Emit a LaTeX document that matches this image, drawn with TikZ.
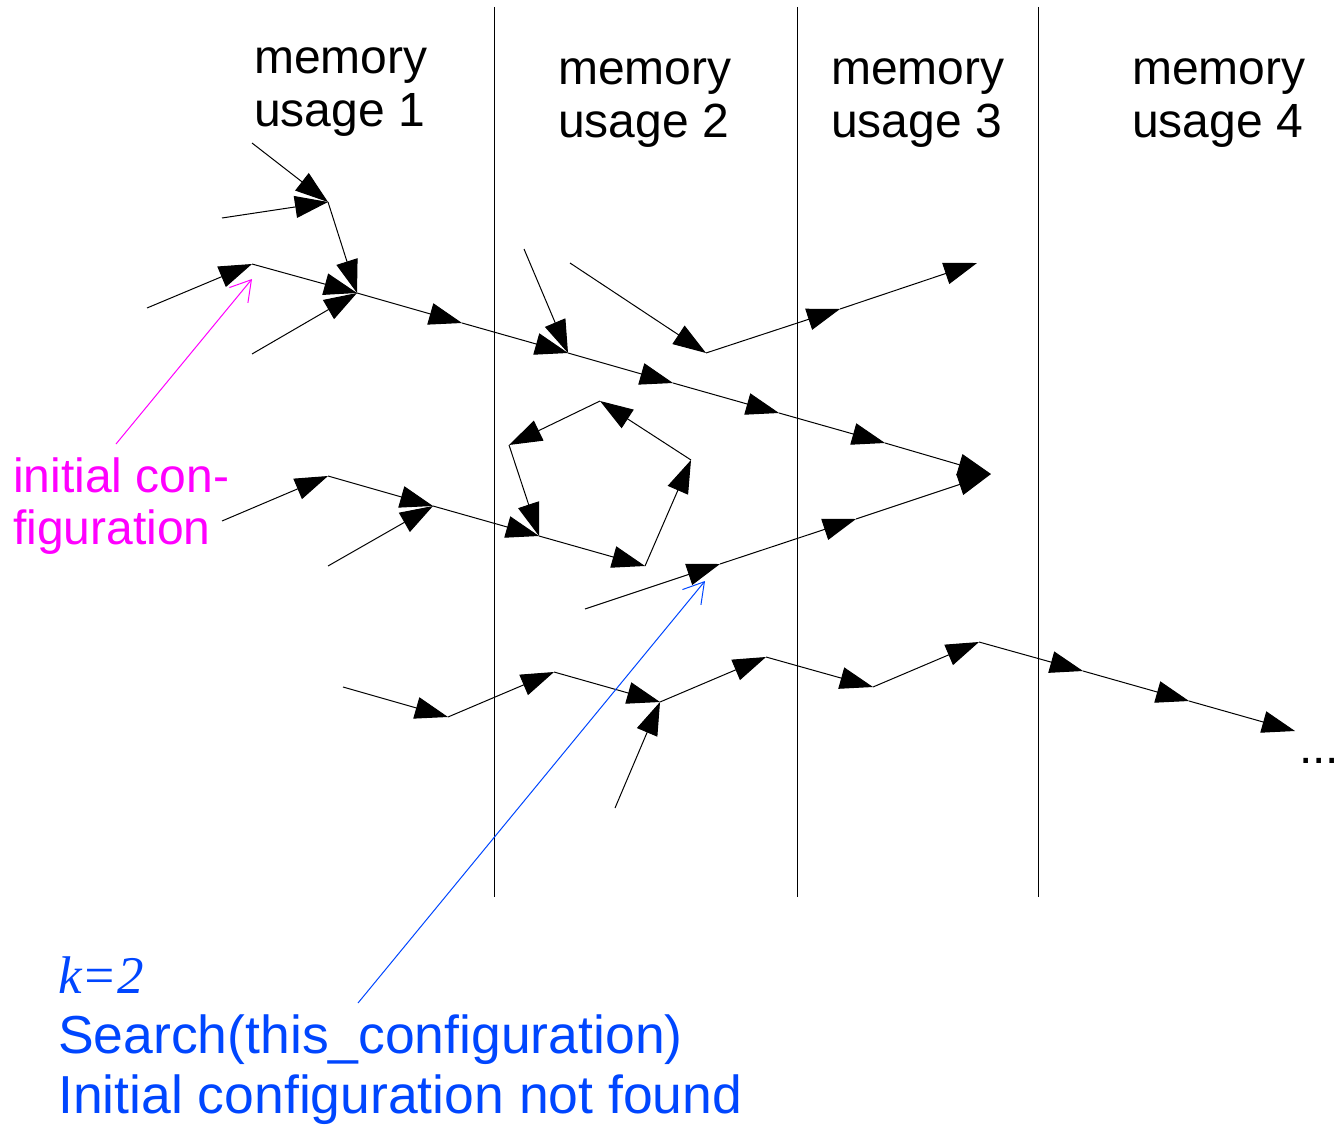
\documentclass[tikz,border=0pt]{standalone}
\usepackage{fontspec}
\setmainfont{Liberation Sans}
\newfontfamily\serifit{Liberation Serif}
\usetikzlibrary{arrows.meta}
\definecolor{notemagenta}{RGB}{255,0,255}
\definecolor{noteblue}{RGB}{0,70,255}
\tikzset{move/.style={line width=1pt, -{Triangle[length=33pt, width=22pt]}}}
\tikzset{pointer/.style={line width=1pt, -{Straight Barb[length=20pt, width=24pt]}}}
\tikzset{divider/.style={line width=0.8pt}}
\tikzset{usage/.style={anchor=base west, inner sep=0pt, align=left, font=\fontsize{48}{53}\selectfont}}

\begin{document}
\begin{tikzpicture}[x=1pt, y=-1pt]
  \useasboundingbox (0,0) rectangle (1335,1126);
  % column dividers
  \foreach \x [count=\i] in {494, 797, 1038} {
    \coordinate (top\i) at (\x, 7);
    \coordinate (bot\i) at (\x, 897);
    \draw[divider] (top\i) -- (bot\i);
  }
  % headings (anchored on the last line)
  \node[usage] (mem1) at (254, 127) {memory\\usage 1};
  \node[usage] (mem2) at (558, 138) {memory\\usage 2};
  \node[usage] (mem3) at (831, 138) {memory\\usage 3};
  \node[usage] (mem4) at (1132, 138) {memory\\usage 4};
  % upper cluster
  \coordinate (u0) at (252, 143);
  \coordinate (u1) at (222, 218);
  \coordinate (u2) at (328, 202);
  \coordinate (u3) at (147, 308);
  \coordinate (u4) at (252, 264);
  \coordinate (u5) at (252, 354);
  \coordinate (u6) at (357, 293);
  \coordinate (u7) at (462, 323);
  \coordinate (u8) at (568, 353);
  \coordinate (u9) at (524, 249);
  \coordinate (u10) at (673, 383);
  \coordinate (u11) at (779, 413);
  \coordinate (u12) at (885, 443);
  \coordinate (u13) at (991, 474);
  \foreach \a/\b in {u0/u2, u1/u2, u2/u6, u3/u4, u4/u6, u5/u6, u6/u7,
                     u7/u8, u9/u8, u8/u10, u10/u11, u11/u12, u12/u13} {
    \draw[move] (\a) -- (\b);
  }
  \coordinate (v0) at (570, 263);
  \coordinate (v1) at (706, 353);
  \coordinate (v2) at (840, 309);
  \coordinate (v3) at (977, 263);
  \foreach \a/\b in {v0/v1, v1/v2, v2/v3} {
    \draw[move] (\a) -- (\b);
  }
  % middle cluster with the loop
  \coordinate (c0) at (222, 521);
  \coordinate (c1) at (328, 476);
  \coordinate (c2) at (433, 506);
  \coordinate (c3) at (328, 566);
  \coordinate (c4) at (539, 536);
  \coordinate (r1) at (645, 566);
  \coordinate (r2) at (691, 460);
  \coordinate (r3) at (600, 401);
  \coordinate (r4) at (509, 445);
  \coordinate (b0) at (585, 609);
  \coordinate (b1) at (720, 564);
  \coordinate (b2) at (856, 519);
  \foreach \a/\b in {c0/c1, c1/c2, c3/c2, c2/c4, c4/r1, r1/r2, r2/r3,
                     r3/r4, r4/c4, b0/b1, b1/b2, b2/u13} {
    \draw[move] (\a) -- (\b);
  }
  % lower chain
  \foreach \x/\y [count=\i from 0] in {343/687, 448/717, 554/672, 660/702, 766/657,
                                       873/687, 979/642, 1083/671, 1189/701, 1295/731} {
    \coordinate (l\i) at (\x, \y);
  }
  \coordinate (l10) at (615, 808);
  \foreach \a/\b in {l0/l1, l1/l2, l2/l3, l3/l4, l4/l5, l5/l6, l6/l7,
                     l7/l8, l8/l9, l10/l3} {
    \draw[move] (\a) -- (\b);
  }
  \node[usage] (dots) at (1299, 763) {...};
  % notes
  \node[usage, text=notemagenta, font=\fontsize{48}{52}\selectfont] (init) at (13, 544) {initial con-\\figuration};
  \coordinate (initfoot) at (116, 444);
  \coordinate (inithead) at (252, 279);
  \draw[pointer, notemagenta] (initfoot) -- (inithead);
  \node[usage, text=noteblue, font=\fontsize{53.5}{60}\selectfont] (search) at (58, 1113)
    {{\serifit\itshape\fontsize{53}{58}\selectfont k=2}\\Search(this\_configuration)\\Initial configuration not found};
  \coordinate (searchfoot) at (358, 1003);
  \coordinate (searchhead) at (705, 581);
  \draw[pointer, noteblue] (searchfoot) -- (searchhead);
\end{tikzpicture}
\end{document}
